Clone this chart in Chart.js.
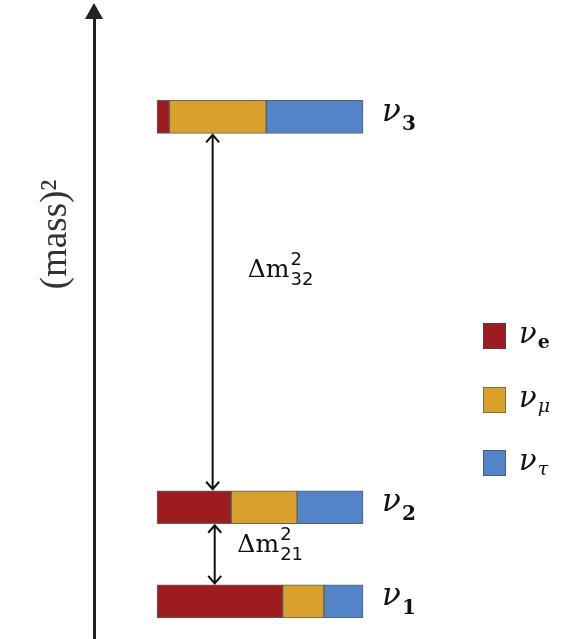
<!DOCTYPE html>
<html>
<head>
<meta charset="utf-8">
<script src="https://cdn.jsdelivr.net/npm/chart.js@4/dist/chart.umd.min.js"></script>
<style>
  body { margin: 0; background: #fff; }
  #wrap { width: 575px; height: 639px; }
</style>
</head>
<body>
<div id="wrap"><canvas id="levels"></canvas></div>
<script>
// mass eigenstates (schematic squared masses, bottom to top)
const STATES = ['1', '2', '3'];
const MASS_SQ = [1, 2, 6.15];
const AXIS_TITLE = '(mass)²';

// flavour content of each state
const FLAVOURS = ['e', 'μ', 'τ'];
const FRAC_E = [0.61, 0.36, 0.06];
const FRAC_MU = [0.20, 0.32, 0.47];
const FRAC_TAU = [0.19, 0.32, 0.47];
const COLOURS = ['#9c1c20', '#d9a02b', '#5184c8'];

// mass splittings drawn as double arrows: [lower state, upper state]
const SPLIT_LOW = [0, 1];
const SPLIT_HIGH = [1, 2];
const SPLIT_SUB = ['21', '32'];

const fractions = [FRAC_E, FRAC_MU, FRAC_TAU];

const datasets = FLAVOURS.map((f, k) => ({
    label: 'ν' + f,
    data: MASS_SQ.map((m, i) => ({ y: m, x: fractions[k][i] })),
    backgroundColor: COLOURS[k],
    borderColor: 'rgba(70,70,70,0.85)',
    borderWidth: 1,
    borderSkipped: false,
    barThickness: 33
}));

function doubleArrow(ctx, x, y1, y2) {
    ctx.beginPath();
    ctx.moveTo(x, y1 + 1);
    ctx.lineTo(x, y2 - 1);
    ctx.moveTo(x - 6.5, y1 + 9); ctx.lineTo(x, y1 + 1.5); ctx.lineTo(x + 6.5, y1 + 9);
    ctx.moveTo(x - 6.5, y2 - 9); ctx.lineTo(x, y2 - 1.5); ctx.lineTo(x + 6.5, y2 - 9);
    ctx.stroke();
}

const diagram = {
    id: 'diagram',
    afterDraw(chart) {
        const ctx = chart.ctx;
        const xs = chart.scales.x, ys = chart.scales.y;
        const area = chart.chartArea;
        const first = chart.getDatasetMeta(0).data;
        const last = chart.getDatasetMeta(FLAVOURS.length - 1).data;
        ctx.save();

        // arrow head on the mass axis
        const ax = area.left;
        ctx.fillStyle = '#222';
        ctx.beginPath();
        ctx.moveTo(ax, area.top - 15);
        ctx.lineTo(ax - 9, area.top + 1);
        ctx.lineTo(ax + 9, area.top + 1);
        ctx.closePath();
        ctx.fill();

        // axis title, rotated
        ctx.save();
        ctx.translate(area.left - 38, ys.getPixelForValue(4.9));
        ctx.rotate(-Math.PI / 2);
        ctx.fillStyle = '#333';
        ctx.font = '37px "Liberation Serif"';
        ctx.textAlign = 'center';
        ctx.textBaseline = 'middle';
        ctx.fillText(AXIS_TITLE, 0, 0);
        ctx.restore();

        // state labels
        ctx.fillStyle = '#111';
        ctx.textBaseline = 'alphabetic';
        last.forEach((bar, i) => {
            const x = bar.x + 19;
            ctx.font = 'italic 31px "DejaVu Serif"';
            ctx.fillText('ν', x, bar.y + 4);
            const w = ctx.measureText('ν').width;
            ctx.font = 'bold 20px "DejaVu Serif"';
            ctx.fillText(STATES[i], x + w + 1, bar.y + 13);
        });

        // splitting arrows and labels
        const arrowX = [xs.getPixelForValue(0.28), xs.getPixelForValue(0.27)];
        const labelX = [xs.getPixelForValue(0.39), xs.getPixelForValue(0.44)];
        const labelY = [ys.getPixelForValue(1.52), ys.getPixelForValue(4.45)];
        ctx.strokeStyle = '#111';
        ctx.lineWidth = 2;
        SPLIT_LOW.forEach((lo, j) => {
            const hi = SPLIT_HIGH[j];
            const top = first[hi].y + first[hi].height / 2;
            const bottom = first[lo].y - first[lo].height / 2;
            doubleArrow(ctx, arrowX[j], top, bottom);
            const lx = labelX[j], ly = labelY[j];
            ctx.font = '25px "DejaVu Serif"';
            ctx.fillText('Δm', lx, ly);
            const w = ctx.measureText('Δm').width;
            ctx.font = '18px "DejaVu Sans"';
            ctx.fillText('2', lx + w + 1, ly - 12);
            ctx.fillText(SPLIT_SUB[j], lx + w + 1, ly + 8);
        });

        // flavour legend
        const legX = 483, legY = [336, 400, 463];
        FLAVOURS.forEach((f, k) => {
            const cy = legY[k];
            ctx.fillStyle = COLOURS[k];
            ctx.fillRect(legX, cy - 13, 23, 26);
            ctx.strokeStyle = 'rgba(70,70,70,0.6)';
            ctx.lineWidth = 1;
            ctx.strokeRect(legX + 0.5, cy - 12.5, 22, 25);
            ctx.fillStyle = '#111';
            ctx.font = 'italic 29px "DejaVu Serif"';
            ctx.fillText('ν', legX + 36, cy + 7);
            const w = ctx.measureText('ν').width;
            ctx.font = (k === 0 ? 'bold ' : 'italic ') + '19px "DejaVu Serif"';
            ctx.fillText(f, legX + 36 + w + 1, cy + 12);
        });

        ctx.restore();
    }
};

new Chart(document.getElementById('levels'), {
    type: 'bar',
    data: { datasets: datasets },
    options: {
        indexAxis: 'y',
        responsive: true,
        maintainAspectRatio: false,
        animation: false,
        layout: { padding: { top: 18, right: 0, bottom: 0, left: 94 } },
        plugins: { legend: { display: false }, tooltip: { enabled: false } },
        scales: {
            x: { type: 'linear', stacked: true, display: false, min: -0.306, max: 2.029 },
            y: {
                type: 'linear',
                stacked: true,
                offset: false,
                min: 0.6,
                max: 7.2,
                grid: { display: false, drawTicks: false },
                ticks: { display: false },
                border: { display: true, color: '#222', width: 3 }
            }
        }
    },
    plugins: [diagram]
});
</script>
</body>
</html>
